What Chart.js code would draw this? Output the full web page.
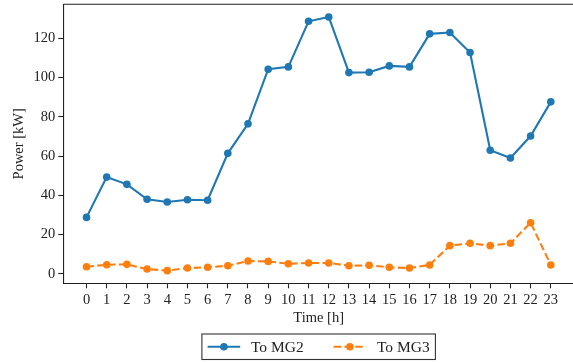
<!DOCTYPE html>
<html>
<head>
<meta charset="utf-8">
<script src="https://cdn.jsdelivr.net/npm/chart.js@4"></script>
<style>
  html, body { margin: 0; padding: 0; background: #fff; overflow: hidden; }
  canvas { display: block; }
</style>
</head>
<body>
<canvas id="chart" width="578" height="363"></canvas>
<script>
// Hourly power exchange
var HOURS = [0, 1, 2, 3, 4, 5, 6, 7, 8, 9, 10, 11, 12, 13, 14, 15, 16, 17, 18, 19, 20, 21, 22, 23];
var TO_MG2 = [28.8, 49.3, 45.6, 38.0, 36.6, 37.8, 37.5, 61.4, 76.4, 104.2, 105.4, 128.6,
              130.8, 102.5, 102.7, 105.9, 105.4, 122.2, 122.9, 112.7, 63.0, 59.0, 70.2, 87.6];
var TO_MG3 = [3.7, 4.7, 4.9, 2.5, 1.7, 3.0, 3.4, 4.2, 6.6, 6.4, 5.2, 5.6,
              5.6, 4.2, 4.4, 3.4, 3.0, 4.6, 14.4, 15.6, 14.4, 15.6, 26.1, 4.6];
var Y_TICKS = [0, 20, 40, 60, 80, 100, 120];

var BLUE = "#1f77b4";
var ORANGE = "#ff7f0e";
var FONT = "'Liberation Serif', 'DejaVu Serif', serif";
var FONT_SIZE = 14.5;

Chart.defaults.font.family = FONT;
Chart.defaults.font.size = FONT_SIZE;
Chart.defaults.color = "#222";

function toPoints(values) {
    return HOURS.map(function (h, i) { return { x: h, y: values[i] }; });
}

// ── top/right spines (matplotlib style box) ──
var framePlugin = {
    id: "frame",
    afterDraw: function (chart) {
        var a = chart.chartArea;
        var ctx = chart.ctx;
        ctx.save();
        ctx.strokeStyle = "#222";
        ctx.lineWidth = 1.1;
        ctx.beginPath();
        ctx.moveTo(a.left, a.top);
        ctx.lineTo(a.right, a.top);
        ctx.lineTo(a.right, a.bottom);
        ctx.stroke();
        ctx.restore();
    }
};

// ── legend with line + marker handles, framed box below the axis ──
var legendPlugin = {
    id: "boxLegend",
    afterDraw: function (chart) {
        var ctx = chart.ctx;
        var a = chart.chartArea;
        var sets = chart.data.datasets;
        var pad = 5.7, handle = 32.6, textGap = 10.7, colGap = 30;
        ctx.save();
        ctx.font = "15.5px " + FONT;
        var widths = sets.map(function (d) { return ctx.measureText(d.label).width; });
        var total = pad * 2 + colGap * (sets.length - 1);
        widths.forEach(function (w) { total += handle + textGap + w; });
        var cx = (a.left + a.right) / 2;
        var left = cx - total / 2;
        var top = 334, h = 25.5, cy = top + h / 2;

        ctx.strokeStyle = "#333";
        ctx.lineWidth = 1.1;
        ctx.strokeRect(left, top, total, h);

        var x = left + pad;
        sets.forEach(function (d, i) {
            ctx.strokeStyle = d.borderColor;
            ctx.lineWidth = d.borderWidth;
            ctx.setLineDash(d.borderDash || []);
            ctx.beginPath();
            ctx.moveTo(x, cy);
            ctx.lineTo(x + handle, cy);
            ctx.stroke();
            ctx.setLineDash([]);
            ctx.fillStyle = d.pointBackgroundColor;
            ctx.beginPath();
            ctx.arc(x + handle / 2, cy, d.pointRadius, 0, Math.PI * 2);
            ctx.fill();
            x += handle + textGap;
            ctx.fillStyle = "#222";
            ctx.textBaseline = "middle";
            ctx.textAlign = "left";
            ctx.fillText(d.label, x, cy + 1);
            x += widths[i] + colGap;
        });
        ctx.restore();
    }
};

new Chart(document.getElementById("chart"), {
    type: "line",
    data: {
        datasets: [{
            label: "To MG2",
            data: toPoints(TO_MG2),
            borderColor: BLUE,
            backgroundColor: BLUE,
            pointBackgroundColor: BLUE,
            pointBorderWidth: 0,
            pointRadius: 3.8,
            borderWidth: 2.1,
            tension: 0,
            fill: false
        }, {
            label: "To MG3",
            data: toPoints(TO_MG3),
            borderColor: ORANGE,
            backgroundColor: ORANGE,
            pointBackgroundColor: ORANGE,
            pointBorderWidth: 0,
            pointRadius: 3.8,
            borderWidth: 2.1,
            borderDash: [7.5, 3.3],
            tension: 0,
            fill: false
        }]
    },
    options: {
        responsive: false,
        animation: false,
        layout: { padding: { left: 0, right: 0, top: 4.3, bottom: 36 } },
        plugins: { legend: { display: false }, tooltip: { enabled: false } },
        scales: {
            x: {
                type: "linear",
                min: -1.15,
                max: 24.15,
                afterBuildTicks: function (scale) {
                    scale.ticks = HOURS.map(function (h) { return { value: h }; });
                },
                afterFit: function (scale) {
                    scale.height = 43.7;
                    scale.paddingLeft = 0;
                    scale.paddingRight = 0;
                },
                ticks: { autoSkip: false, maxRotation: 0, padding: 3, color: "#222" },
                grid: { drawOnChartArea: false, drawTicks: true, tickLength: 5, tickWidth: 1.1, tickColor: "#222" },
                border: { display: true, color: "#222", width: 1.1 },
                title: { display: true, text: "Time [h]", color: "#222", padding: { top: 2, bottom: 0 } }
            },
            y: {
                type: "linear",
                min: -4.75,
                max: 137.25,
                afterBuildTicks: function (scale) {
                    scale.ticks = Y_TICKS.map(function (v) { return { value: v }; });
                },
                afterFit: function (scale) {
                    scale.width = 63.3;
                    scale.paddingTop = 0;
                    scale.paddingBottom = 0;
                },
                ticks: { padding: 3, color: "#222" },
                grid: { drawOnChartArea: false, drawTicks: true, tickLength: 5, tickWidth: 1.1, tickColor: "#222" },
                border: { display: true, color: "#222", width: 1.1 },
                title: { display: true, text: "Power [kW]", color: "#222", padding: { top: 10, bottom: 2 } }
            }
        }
    },
    plugins: [framePlugin, legendPlugin]
});
</script>
</body>
</html>
